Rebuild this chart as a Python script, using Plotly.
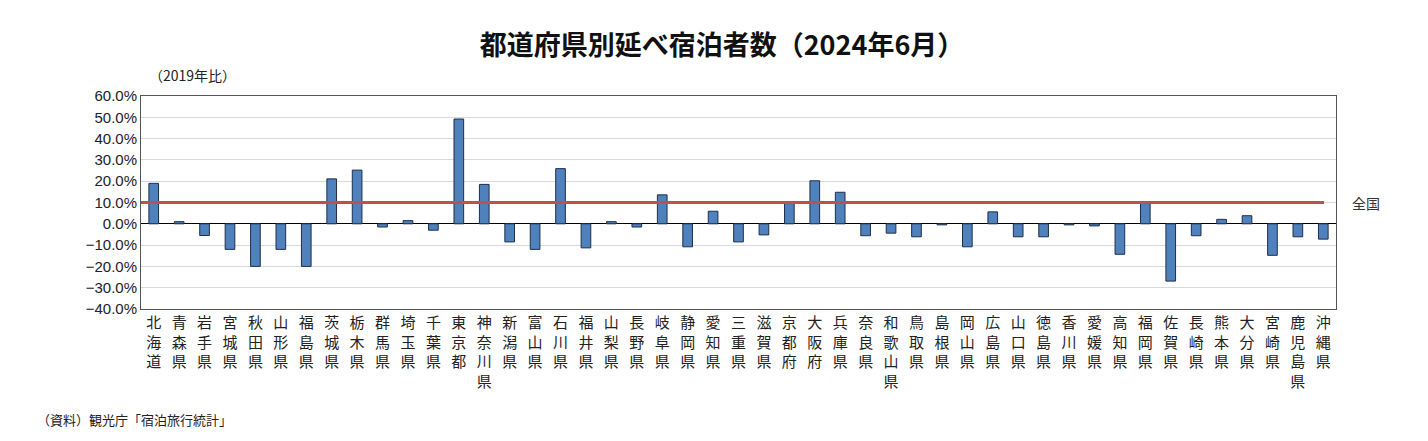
import plotly.graph_objects as go

prefs = ["北海道", "青森県", "岩手県", "宮城県", "秋田県", "山形県", "福島県", "茨城県", "栃木県", "群馬県",
         "埼玉県", "千葉県", "東京都", "神奈川県", "新潟県", "富山県", "石川県", "福井県", "山梨県", "長野県",
         "岐阜県", "静岡県", "愛知県", "三重県", "滋賀県", "京都府", "大阪府", "兵庫県", "奈良県", "和歌山県",
         "鳥取県", "島根県", "岡山県", "広島県", "山口県", "徳島県", "香川県", "愛媛県", "高知県", "福岡県",
         "佐賀県", "長崎県", "熊本県", "大分県", "宮崎県", "鹿児島県", "沖縄県"]
values = [19.0, 1.0, -5.5, -12.0, -20.0, -12.0, -20.0, 21.1, 25.2, -1.5,
          1.5, -3.0, 49.2, 18.5, -8.5, -12.0, 25.9, -11.3, 1.0, -1.5,
          13.6, -10.8, 5.9, -8.5, -5.2, 9.5, 20.2, 14.8, -5.6, -4.4,
          -6.1, -0.5, -10.8, 5.6, -6.1, -6.1, -0.5, -1.0, -14.3, 9.5,
          -26.9, -5.6, 2.1, 3.8, -14.8, -6.1, -7.2]
national = 10.0

labels = ["<br>".join(p) for p in prefs]
font = "Noto Sans CJK JP"

fig = go.Figure()
fig.add_bar(x=labels, y=values, width=0.38,
            marker=dict(color="#4f81bd", line=dict(color="#1f2f4a", width=1)))

fig.add_shape(type="line", xref="paper", yref="y", x0=0, x1=0.99,
              y0=national, y1=national, line=dict(color="#c0504d", width=3))
fig.add_annotation(xref="paper", yref="y", x=1.012, y=national, text="全国",
                   showarrow=False, xanchor="left", font=dict(size=14, color="#333"))

fig.update_layout(
    width=1428, height=441, plot_bgcolor="white", paper_bgcolor="white",
    margin=dict(l=133, r=100, t=88, b=140),
    font=dict(family=font, color="#222"),
    title=dict(text="<b>都道府県別延べ宿泊者数（2024年6月）</b>", x=0.5, y=0.915, xanchor="center",
               yanchor="middle", font=dict(size=27, color="#111")),
    showlegend=False, bargap=0.6,
)
fig.update_yaxes(range=[-40, 60], dtick=10, ticksuffix="%", tickformat=".1f",
                 gridcolor="#d9d9d9", zeroline=True, zerolinecolor="#000", zerolinewidth=1,
                 showline=True, linecolor="#555", mirror=True, tickfont=dict(size=15, family="Liberation Sans Narrow, Liberation Sans"))
fig.update_xaxes(showline=True, linecolor="#555", mirror=True, tickangle=0,
                 tickfont=dict(size=15), ticks="")

fig.add_annotation(xref="paper", yref="paper", x=0.005, y=1.04, text="（2019年比）",
                   showarrow=False, xanchor="left", yanchor="bottom", font=dict(size=14))
fig.add_annotation(xref="paper", yref="paper", x=-0.089, y=-0.52, text="（資料）観光庁「宿泊旅行統計」",
                   showarrow=False, xanchor="left", yanchor="middle", font=dict(size=13))

fig.write_html("out.html")
